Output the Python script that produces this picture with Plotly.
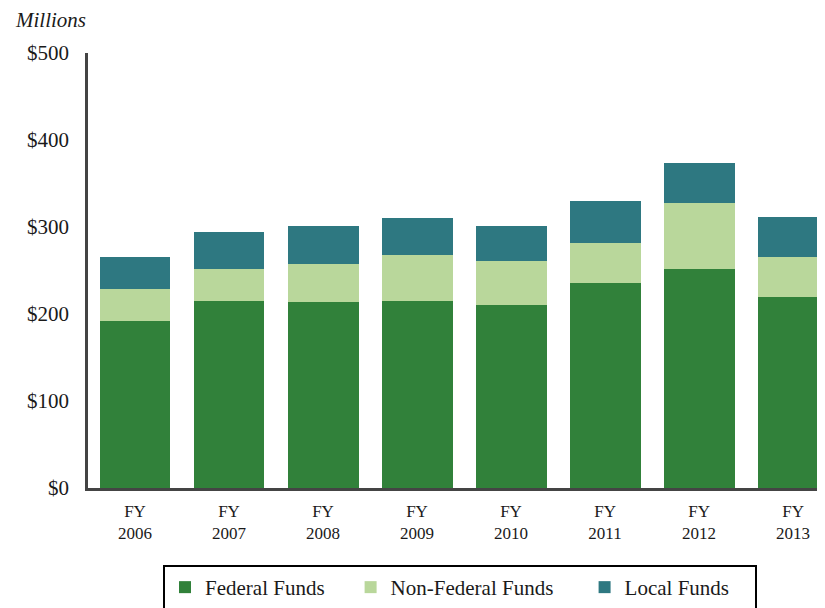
import plotly.graph_objects as go

years = ["FY<br>2006", "FY<br>2007", "FY<br>2008", "FY<br>2009", "FY<br>2010", "FY<br>2011", "FY<br>2012", "FY<br>2013"]
federal = [192, 215, 214, 215, 210, 236, 252, 219]
non_federal = [37, 37, 43.5, 53, 51, 46, 75.6, 46.5]
local = [36.5, 42, 43.5, 42, 40, 48, 46.4, 46.5]
y_ticks = [0, 100, 200, 300, 400, 500]
y_tick_labels = ["$0", "$100", "$200", "$300", "$400", "$500"]

FONT = "Liberation Serif"
NB = "\u00a0"

fig = go.Figure()
fig.add_trace(go.Bar(x=years, y=federal, name="Federal Funds" + NB * 4, marker=dict(color="#31813A", line=dict(width=0))))
fig.add_trace(go.Bar(x=years, y=non_federal, name="Non-Federal Funds" + NB * 5, marker=dict(color="#B9D79B", line=dict(width=0))))
fig.add_trace(go.Bar(x=years, y=local, name="Local Funds" + NB * 4, marker=dict(color="#2E7881", line=dict(width=0))))

fig.update_layout(
    barmode="stack",
    bargap=0.245,
    width=817, height=600,
    margin=dict(l=80, r=0, t=45, b=120, autoexpand=False),
    plot_bgcolor="white", paper_bgcolor="white",
    font=dict(family=FONT, color="#1a1a1a", size=18),
    showlegend=True,
    legend=dict(
        orientation="h",
        x=0.1018, xanchor="left",
        y=-0.177, yanchor="top",
        bordercolor="black", borderwidth=2,
        font=dict(family=FONT, size=21, color="#1a1a1a"),
        traceorder="normal",
    ),
    xaxis=dict(
        range=[-0.5, 7.34],
        showline=True, linecolor="#444444", linewidth=2.5,
        ticks="", showgrid=False, automargin=False,
        tickfont=dict(family=FONT, size=17),
        ticklabelstandoff=6,
    ),
    yaxis=dict(
        range=[0, 500],
        tickvals=y_ticks, ticktext=y_tick_labels,
        showline=True, linecolor="#444444", linewidth=2.5,
        ticks="", showgrid=False, zeroline=False, automargin=False,
        tickfont=dict(family=FONT, size=21),
        ticklabelstandoff=12,
    ),
    annotations=[dict(
        text="<i>Millions</i>", xref="paper", yref="paper",
        x=-0.1018, y=1.076, xanchor="left", yanchor="middle",
        showarrow=False, font=dict(family=FONT, size=21, color="#1a1a1a"),
    )],
)

fig.write_html("out.html")
